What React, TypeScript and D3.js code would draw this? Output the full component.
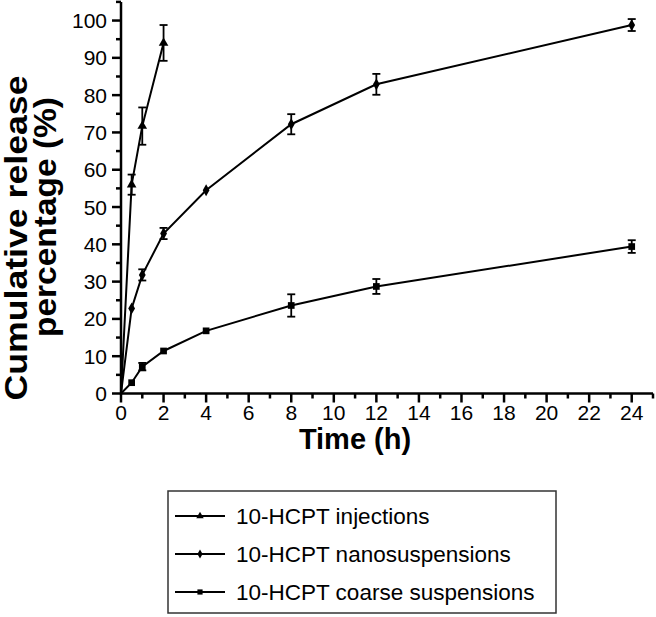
import React from "react";
import * as d3 from "d3";

const timesInj = [0, 0.5, 1, 2];
const valuesInj = [0, 56, 71.7, 94];
const errInj = [0, 2.7, 5, 4.8];

const timesNano = [0, 0.5, 1, 2, 4, 8, 12, 24];
const valuesNano = [0, 22.8, 31.8, 42.9, 54.5, 72.2, 82.9, 98.8];
const errNano = [0, 0.6, 1.5, 1.5, 0.5, 2.7, 2.8, 1.6];

const timesCoarse = [0, 0.5, 1, 2, 4, 8, 12, 24];
const valuesCoarse = [0, 2.9, 7.2, 11.4, 16.8, 23.6, 28.7, 39.4];
const errCoarse = [0, 0.5, 1.0, 0.6, 0.7, 3.0, 2.0, 1.7];

const xTicks = d3.range(0, 25, 2);
const yTicks = d3.range(0, 101, 10);
const legendLabels = ["10-HCPT injections", "10-HCPT nanosuspensions", "10-HCPT coarse suspensions"];
const markerTypes = ["triangle", "diamond", "square"];

const FONT = "'Liberation Sans', Arial, Helvetica, sans-serif";

function Marker({ type, x, y, s = 1 }: { type: string; x: number; y: number; s?: number }) {
  const t = type === "triangle" ? d3.symbolTriangle : type === "diamond" ? d3.symbolDiamond : d3.symbolSquare;
  const size = type === "square" ? 45 * s : 40 * s;
  const sym = d3.symbol(t, size)();
  return <path d={sym || ""} transform={`translate(${x},${y})`} fill="#000" />;
}

export default function App() {
  const W = 656, H = 617;
  const x = d3.scaleLinear().domain([0, 25]).range([121, 653]);
  const y = d3.scaleLinear().domain([0, 105]).range([393.5, 1.9]);

  const series = [
    { t: timesInj, v: valuesInj, e: errInj, m: markerTypes[0] },
    { t: timesNano, v: valuesNano, e: errNano, m: markerTypes[1] },
    { t: timesCoarse, v: valuesCoarse, e: errCoarse, m: markerTypes[2] },
  ];
  const line = d3.line<[number, number]>().x((d) => x(d[0])).y((d) => y(d[1]));

  const xMinor = d3.range(1, 26, 2);
  const yMinor = d3.range(5, 106, 10);

  return (
    <svg width={W} height={H} style={{ position: "absolute", left: 0, top: 0, background: "#fff" }}>
      <rect width={W} height={H} fill="#fff" />
      {/* axes */}
      <line x1={x(0)} x2={x(0)} y1={y(105)} y2={y(0) + 1} stroke="#000" strokeWidth={2.5} />
      <line x1={x(0) - 1} x2={x(25)} y1={y(0)} y2={y(0)} stroke="#000" strokeWidth={2.5} />
      {yTicks.map((t) => (
        <g key={"y" + t}>
          <line x1={x(0) - 9} x2={x(0)} y1={y(t)} y2={y(t)} stroke="#000" strokeWidth={2.5} />
          <text x={107} y={y(t)} dy="0.36em" textAnchor="end" fontFamily={FONT} fontSize={21}>{t}</text>
        </g>
      ))}
      {yMinor.map((t) => (
        <line key={"ym" + t} x1={x(0) - 5} x2={x(0)} y1={y(t)} y2={y(t)} stroke="#000" strokeWidth={2.5} />
      ))}
      {xTicks.map((t) => (
        <g key={"x" + t}>
          <line x1={x(t)} x2={x(t)} y1={y(0)} y2={y(0) + 9} stroke="#000" strokeWidth={2.5} />
          <text x={x(t)} y={420} textAnchor="middle" fontFamily={FONT} fontSize={21}>{t}</text>
        </g>
      ))}
      {xMinor.map((t) => (
        <line key={"xm" + t} x1={x(t)} x2={x(t)} y1={y(0)} y2={y(0) + 5} stroke="#000" strokeWidth={2.5} />
      ))}
      <text x={355} y={449} textAnchor="middle" fontFamily={FONT} fontSize={29} fontWeight="bold">Time (h)</text>
      <text transform="translate(27,238) rotate(-90)" textAnchor="middle" fontFamily={FONT} fontSize={31} fontWeight="bold" textLength={325} lengthAdjust="spacingAndGlyphs">Cumulative release</text>
      <text transform="translate(56,217) rotate(-90)" textAnchor="middle" fontFamily={FONT} fontSize={31} fontWeight="bold" textLength={240} lengthAdjust="spacingAndGlyphs">percentage (%)</text>

      {/* series */}
      {series.map((s, i) => {
        const pts: [number, number][] = s.t.map((t, j) => [t, s.v[j]]);
        return (
          <g key={"s" + i}>
            <path d={line(pts) || ""} fill="none" stroke="#000" strokeWidth={2} />
            {s.t.map((t, j) =>
              s.e[j] > 0.8 ? (
                <g key={j} stroke="#000" strokeWidth={1.8}>
                  <line x1={x(t)} x2={x(t)} y1={y(s.v[j] - s.e[j])} y2={y(s.v[j] + s.e[j])} />
                  <line x1={x(t) - 4} x2={x(t) + 4} y1={y(s.v[j] - s.e[j])} y2={y(s.v[j] - s.e[j])} />
                  <line x1={x(t) - 4} x2={x(t) + 4} y1={y(s.v[j] + s.e[j])} y2={y(s.v[j] + s.e[j])} />
                </g>
              ) : null
            )}
            {s.t.map((t, j) => (j === 0 ? null : <Marker key={"m" + j} type={s.m} x={x(t)} y={y(s.v[j])} />))}
          </g>
        );
      })}

      {/* legend */}
      <rect x={168} y={491} width={388} height={122} fill="none" stroke="#333" strokeWidth={1.5} />
      {legendLabels.map((lab, i) => {
        const ly = 516 + i * 38;
        return (
          <g key={lab}>
            <line x1={175} x2={225} y1={ly} y2={ly} stroke="#000" strokeWidth={2} />
            <Marker type={markerTypes[i]} x={200} y={ly} s={0.6} />
            <text x={236} y={ly} dy="0.35em" fontFamily={FONT} fontSize={22.5}>{lab}</text>
          </g>
        );
      })}
    </svg>
  );
}
